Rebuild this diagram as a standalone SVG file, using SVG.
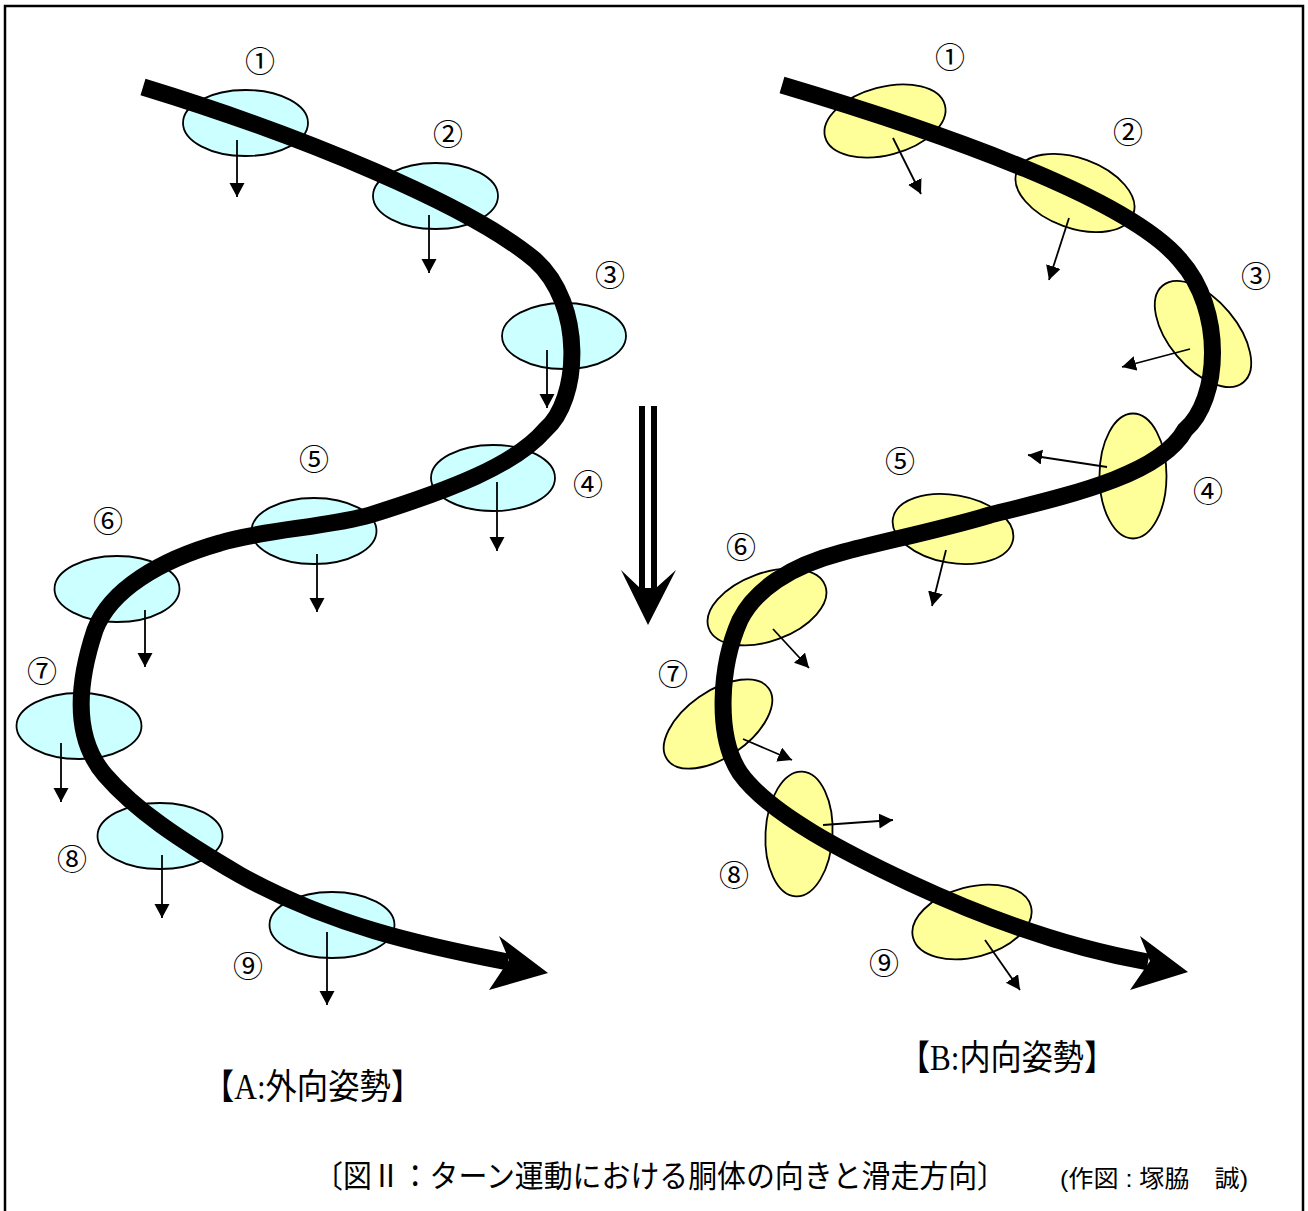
<svg xmlns="http://www.w3.org/2000/svg" width="1308" height="1211" viewBox="0 0 1308 1211">
<style>
.ec{fill:#CCFFFF;stroke:#000;stroke-width:1.8}
.ey{fill:#FFFF99;stroke:#000;stroke-width:1.8}
.path{fill:none;stroke:#000;stroke-width:17}
.ar{stroke:#000;stroke-width:1.8;marker-end:url(#ah)}
.num{font-family:"Noto Sans CJK JP",serif;font-size:30px;text-anchor:middle;fill:#000}
.ttl{font-family:"Liberation Serif","Noto Sans CJK JP",serif;font-size:35px;fill:#000}
.cap{font-family:"Liberation Sans","Noto Sans CJK JP",sans-serif;fill:#000}
</style>
<defs>
<marker id="ah" markerUnits="userSpaceOnUse" markerWidth="16" markerHeight="16" refX="14" refY="7.5" orient="auto">
<path d="M0,0 L14,7.5 L0,15 z" fill="#000"/>
</marker>
</defs>
<rect x="0" y="0" width="1308" height="1211" fill="#fff"/>
<rect x="5" y="6" width="1298" height="1230" fill="none" stroke="#000" stroke-width="2.5"/>

<g id="left-panel">
<g id="A1"><ellipse class="ec" cx="245.5" cy="123" rx="62.5" ry="33"/></g>
<g id="A2"><ellipse class="ec" cx="435.5" cy="196" rx="62.5" ry="33"/></g>
<g id="A3"><ellipse class="ec" cx="564" cy="336" rx="62" ry="33"/></g>
<g id="A4"><ellipse class="ec" cx="493" cy="478" rx="62" ry="33"/></g>
<g id="A5"><ellipse class="ec" cx="314" cy="531" rx="62.5" ry="33"/></g>
<g id="A6"><ellipse class="ec" cx="117" cy="589" rx="62.5" ry="33"/></g>
<g id="A7"><ellipse class="ec" cx="79" cy="726" rx="62.5" ry="33"/></g>
<g id="A8"><ellipse class="ec" cx="160" cy="836" rx="62.5" ry="33"/></g>
<g id="A9"><ellipse class="ec" cx="332" cy="925" rx="62.5" ry="33"/></g>
</g>

<g id="right-panel">
<g id="B1"><ellipse class="ey" cx="885" cy="121" rx="62" ry="34" transform="rotate(-15 885 121)"/></g>
<g id="B2"><ellipse class="ey" cx="1075" cy="193" rx="62" ry="35" transform="rotate(20 1075 193)"/></g>
<g id="B3"><ellipse class="ey" cx="1203" cy="334" rx="63" ry="34" transform="rotate(50 1203 334)"/></g>
<g id="B4"><ellipse class="ey" cx="1133" cy="476" rx="33.5" ry="62.5"/></g>
<g id="B5"><ellipse class="ey" cx="953" cy="529" rx="61" ry="34" transform="rotate(10 953 529)"/></g>
<g id="B6"><ellipse class="ey" cx="767" cy="607" rx="62" ry="34" transform="rotate(-20 767 607)"/></g>
<g id="B7"><ellipse class="ey" cx="718" cy="724" rx="62" ry="33" transform="rotate(-35 718 724)"/></g>
<g id="B8"><ellipse class="ey" cx="799" cy="834" rx="33.5" ry="62.5" transform="rotate(3 799 834)"/></g>
<g id="B9"><ellipse class="ey" cx="972" cy="922" rx="61" ry="35" transform="rotate(-15 972 922)"/></g>
</g>

<g id="connectors">
<path class="path" d="M143,87 C300,135 470,205 535,260 C585,305 580,400 545,430 C515,465 450,490 370,515 C330,527 260,530 220,543 C160,560 110,590 95,630 C75,690 75,740 105,775 C135,810 180,840 240,875 C330,925 420,945 508,962"/>
<polygon points="548,973 499,936 509,960 489,990" fill="#000"/>
<path class="path" d="M782,85 C950,135 1130,200 1180,260 C1225,310 1220,400 1185,430 C1160,475 1070,495 990,515 C940,530 880,542 840,553 C790,566 755,590 740,620 C720,665 715,735 740,773 C770,815 850,855 910,883 C1000,925 1080,950 1148,962"/>
<polygon points="1188,972 1140,936 1150,961 1130,990" fill="#000"/>

<line class="ar" x1="237" y1="140" x2="237" y2="197"/>
<line class="ar" x1="429" y1="215" x2="429" y2="273"/>
<line class="ar" x1="547" y1="350" x2="547" y2="408"/>
<line class="ar" x1="497" y1="482" x2="497" y2="551"/>
<line class="ar" x1="317" y1="554" x2="317" y2="612"/>
<line class="ar" x1="145" y1="610" x2="145" y2="667"/>
<line class="ar" x1="61" y1="743" x2="61" y2="802"/>
<line class="ar" x1="162" y1="855" x2="162" y2="918"/>
<line class="ar" x1="327" y1="932" x2="327" y2="1005"/>

<line class="ar" x1="893" y1="138" x2="921" y2="194"/>
<line class="ar" x1="1069" y1="218" x2="1049" y2="280"/>
<line class="ar" x1="1190" y1="349" x2="1122" y2="367"/>
<line class="ar" x1="1107" y1="467" x2="1028" y2="455"/>
<line class="ar" x1="946" y1="550" x2="932" y2="606"/>
<line class="ar" x1="773" y1="629" x2="809" y2="668"/>
<line class="ar" x1="743" y1="739" x2="792" y2="760"/>
<line class="ar" x1="823" y1="825" x2="893" y2="820"/>
<line class="ar" x1="985" y1="940" x2="1020" y2="990"/>

<g id="center-arrow">
<rect x="639" y="406" width="6" height="186" fill="#000"/>
<rect x="651" y="406" width="6" height="186" fill="#000"/>
<polygon points="621,570 648,625 676,570 656,588 640,588" fill="#000"/>
</g>
</g>

<g id="labels">
<text class="num" x="260" y="72">①</text>
<text class="num" x="448" y="145">②</text>
<text class="num" x="610" y="286">③</text>
<text class="num" x="588" y="495">④</text>
<text class="num" x="314" y="470">⑤</text>
<text class="num" x="108" y="532">⑥</text>
<text class="num" x="42" y="682">⑦</text>
<text class="num" x="72" y="870">⑧</text>
<text class="num" x="248" y="977">⑨</text>

<text class="num" x="950" y="68">①</text>
<text class="num" x="1128" y="143">②</text>
<text class="num" x="1256" y="287">③</text>
<text class="num" x="1208" y="502">④</text>
<text class="num" x="900" y="472">⑤</text>
<text class="num" x="741" y="558">⑥</text>
<text class="num" x="673" y="685">⑦</text>
<text class="num" x="734" y="886">⑧</text>
<text class="num" x="884" y="974">⑨</text>

<text class="ttl" x="203" y="1099" textLength="219" lengthAdjust="spacingAndGlyphs">【A:外向姿勢】</text>
<text class="ttl" x="899" y="1070" textLength="216" lengthAdjust="spacingAndGlyphs">【B:内向姿勢】</text>
<text class="cap" x="314" y="1187" font-size="31" textLength="692" lengthAdjust="spacingAndGlyphs">〔図Ⅱ：ターン運動における胴体の向きと滑走方向〕</text>
<text class="cap" x="1060" y="1187" font-size="24" textLength="188" lengthAdjust="spacingAndGlyphs">(作図 : 塚脇　誠)</text>
</g>
</svg>
